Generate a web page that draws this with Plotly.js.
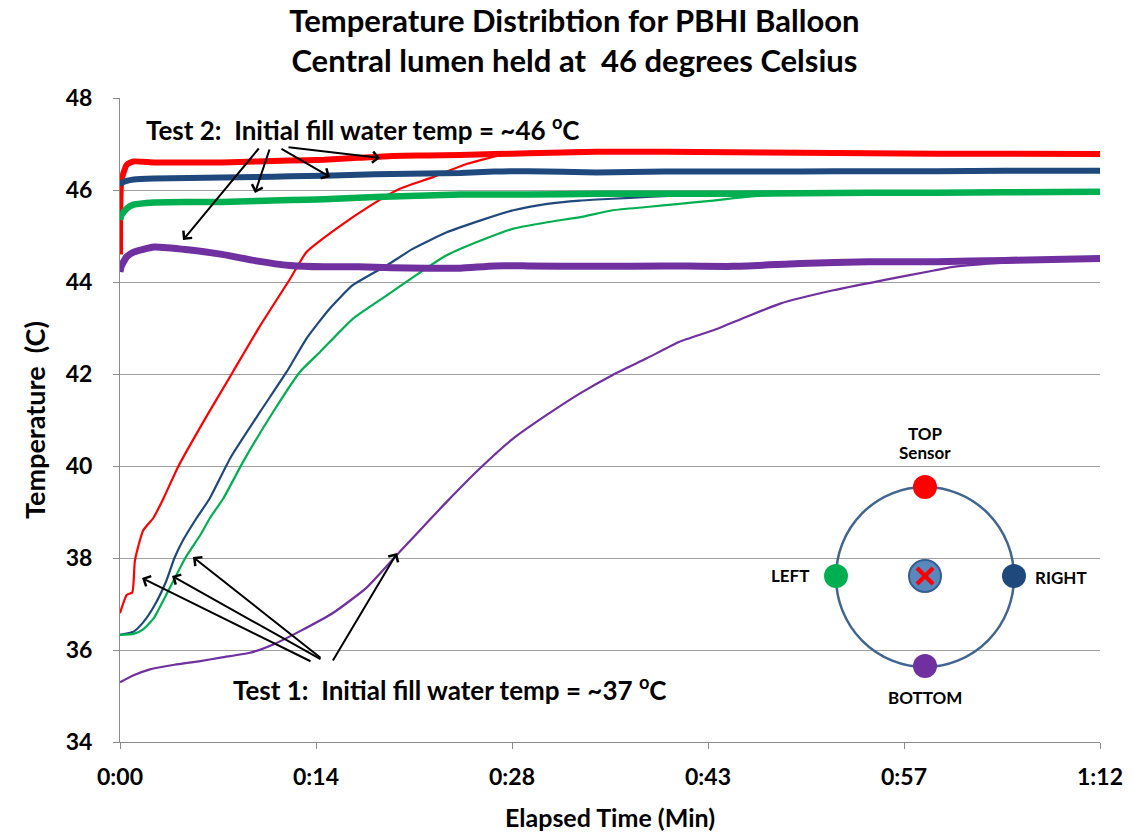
<!DOCTYPE html>
<html>
<head>
<meta charset="utf-8">
<script src="https://cdn.plot.ly/plotly-3.0.1.min.js"></script>
<style>html,body{margin:0;padding:0;background:#fff;}#chart{width:1133px;height:832px;}</style>
</head>
<body>
<div id="chart"></div>
<script>
// ---------- DATA ----------
// elapsed time in minutes, temperature in deg C
var xTickVals = [0, 14.4, 28.8, 43.2, 57.6, 72];
var xTickText = ["0:00", "0:14", "0:28", "0:43", "0:57", "1:12"];

// Test 2 (initial fill ~46 C)
var t2Time   = [0, 0.1, 0.5, 1, 2.5, 5, 7.5, 10, 12.5, 15, 17.5, 20, 22.5, 25, 27.5, 30, 35, 40, 45, 50, 55, 60, 65, 72];
var t2Top    = [44.6, 46.2, 46.55, 46.62, 46.6, 46.6, 46.6, 46.62, 46.64, 46.66, 46.7, 46.74, 46.75, 46.76, 46.78, 46.8, 46.83, 46.83, 46.82, 46.81, 46.8, 46.79, 46.79, 46.78];
var t2Right  = [46.1, 46.15, 46.2, 46.23, 46.25, 46.26, 46.27, 46.28, 46.3, 46.31, 46.33, 46.35, 46.36, 46.37, 46.4, 46.41, 46.38, 46.4, 46.4, 46.4, 46.41, 46.41, 46.42, 46.42];
var t2Left   = [45.35, 45.45, 45.6, 45.68, 45.73, 45.74, 45.74, 45.76, 45.78, 45.8, 45.83, 45.86, 45.88, 45.9, 45.9, 45.9, 45.92, 45.92, 45.92, 45.93, 45.94, 45.94, 45.95, 45.96];
var t2Bottom = [44.22, 44.35, 44.55, 44.65, 44.76, 44.7, 44.6, 44.46, 44.36, 44.33, 44.33, 44.31, 44.3, 44.3, 44.35, 44.35, 44.34, 44.35, 44.34, 44.4, 44.44, 44.44, 44.47, 44.51];

// Test 1 (initial fill ~37 C)
var t1TopTime  = [0, 0.5, 0.9, 1.1, 1.7, 2.45, 3.2, 4.3, 6.4, 8.3, 10.3, 12.5, 13.7, 15.9, 18.4, 20.6, 23, 25.5, 27.9, 30.4, 35.3, 40, 45, 55, 65, 72];
var t1Top      = [36.8, 37.2, 37.25, 37.95, 38.6, 38.87, 39.3, 40.0, 41.1, 42.05, 43.05, 44.07, 44.65, 45.16, 45.66, 46.03, 46.28, 46.57, 46.75, 46.82, 46.86, 46.85, 46.82, 46.8, 46.79, 46.78];
var t1RightTime = [0, 1.0, 1.7, 2.5, 3.4, 4.0, 4.6, 5.63, 6.6, 8.1, 10.3, 12.25, 13.7, 15.4, 17.1, 19.6, 21.5, 24, 26.5, 28.9, 31.4, 33.8, 36.2, 38.7, 41.1, 45, 50, 60, 72];
var t1Right     = [36.33, 36.4, 36.6, 36.95, 37.5, 38.0, 38.37, 38.87, 39.3, 40.17, 41.18, 42.05, 42.77, 43.42, 43.93, 44.36, 44.72, 45.08, 45.34, 45.56, 45.7, 45.77, 45.81, 45.85, 45.88, 45.9, 45.92, 45.94, 45.95];
var t1LeftTime = [0, 1.0, 1.7, 2.5, 3.4, 4.8, 5.9, 6.61, 7.6, 9.06, 11.26, 13.23, 14.7, 17.1, 19.6, 22, 24, 26.5, 28.9, 31.4, 33.8, 36.2, 38.7, 41.1, 43.6, 46, 48.5, 52, 60, 72];
var t1Left     = [36.33, 36.35, 36.45, 36.7, 37.2, 38.0, 38.5, 38.87, 39.3, 40.1, 41.18, 42.05, 42.48, 43.2, 43.71, 44.2, 44.58, 44.9, 45.16, 45.3, 45.41, 45.56, 45.63, 45.7, 45.77, 45.85, 45.9, 45.93, 45.94, 45.95];
var t1BottomTime = [0, 1, 2.2, 4, 5.9, 7.5, 9.55, 11.26, 13.23, 15.67, 18.1, 20.57, 22.5, 24, 26.45, 28.9, 31.35, 33.8, 36.2, 38.7, 41.1, 43.6, 46, 48.5, 52.4, 56.1, 59.8, 61.2, 65, 72];
var t1Bottom     = [35.3, 35.45, 35.58, 35.68, 35.76, 35.84, 35.94, 36.12, 36.41, 36.81, 37.35, 38.14, 38.75, 39.22, 39.95, 40.6, 41.11, 41.58, 41.98, 42.34, 42.7, 42.95, 43.24, 43.53, 43.82, 44.04, 44.25, 44.33, 44.42, 44.5];

// ---------- STYLE ----------
var cRed = '#FF0000', cBlue = '#1F497D', cGreen = '#00B050', cPurple = '#7030A0';
var calibri = 'Lato, "Open Sans", sans-serif';
var W = 1133, H = 832, mL = 120, mR = 33, mT = 98, mB = 90;
var plotW = W - mL - mR, plotH = H - mT - mB;
function px2x(px) { return (px - mL) / plotW * 72; }
function py2y(py) { return 48 - (py - mT) / plotH * 14; }
function ppx(px) { return (px - mL) / plotW; }
function ppy(py) { return (H - mB - py) / plotH; }

function line(x, y, color, width, name) {
  return {x: x, y: y, type: 'scatter', mode: 'lines', name: name,
          line: {color: color, width: width, shape: 'spline', smoothing: 0.5}, hoverinfo: 'x+y'};
}
var traces = [
  line(t1TopTime, t1Top, cRed, 2.2, 'Test 1 Top'),
  line(t1RightTime, t1Right, cBlue, 2.2, 'Test 1 Right'),
  line(t1LeftTime, t1Left, cGreen, 2.2, 'Test 1 Left'),
  line(t1BottomTime, t1Bottom, cPurple, 2.2, 'Test 1 Bottom'),
  line(t2Time, t2Top, cRed, 6, 'Test 2 Top'),
  line(t2Time, t2Right, cBlue, 6, 'Test 2 Right'),
  line(t2Time, t2Left, cGreen, 6.5, 'Test 2 Left'),
  line(t2Time, t2Bottom, cPurple, 7, 'Test 2 Bottom')
];

function arrow(tailPx, tailPy, headPx, headPy) {
  return {xref: 'x', yref: 'y', axref: 'x', ayref: 'y', text: '',
          x: px2x(headPx), y: py2y(headPy), ax: px2x(tailPx), ay: py2y(tailPy),
          showarrow: true, arrowhead: 4, arrowsize: 1.1, arrowwidth: 2, arrowcolor: '#000', standoff: 0};
}
function label(text, px, py, size) {
  return {xref: 'paper', yref: 'paper', x: ppx(px), y: ppy(py), text: text, showarrow: false,
          xanchor: 'center', yanchor: 'middle', font: {family: calibri, size: size, color: '#000', weight: 'bold'}};
}

var annotations = [
  label('Test 2:\u00a0 Initial fill water temp = ~46 <sup>o</sup>C', 363, 128, 26),
  label('Test 1:\u00a0 Initial fill water temp = ~37 <sup>o</sup>C', 450, 688, 26),
  arrow(260, 147, 183, 240),
  arrow(270, 148, 255, 193),
  arrow(280, 148, 330, 177),
  arrow(287, 147, 380, 158),
  arrow(312, 662, 142, 578),
  arrow(322, 660, 172, 576),
  arrow(322, 659, 193, 557),
  arrow(332, 662, 397, 553),
  label('TOP', 925, 433, 17),
  label('Sensor', 925, 452, 17),
  label('LEFT', 790, 575, 17),
  label('RIGHT', 1061, 577, 17),
  label('BOTTOM', 925, 697, 17)
];

function dot(cx, cy, r, fill, lineColor, lw) {
  return {type: 'circle', xref: 'paper', yref: 'paper',
          x0: ppx(cx - r), x1: ppx(cx + r), y0: ppy(cy + r), y1: ppy(cy - r),
          fillcolor: fill, line: {color: lineColor, width: lw}, layer: 'above'};
}
var shapes = [
  {type: 'circle', xref: 'paper', yref: 'paper', x0: ppx(836), x1: ppx(1014), y0: ppy(667), y1: ppy(487),
   line: {color: '#3F6590', width: 2.5}, fillcolor: 'rgba(0,0,0,0)', layer: 'above'},
  dot(925, 487, 12, cRed, cRed, 0),
  dot(836, 576, 12, cGreen, cGreen, 0),
  dot(1014, 576, 12, cBlue, cBlue, 0),
  dot(925, 666, 12, cPurple, cPurple, 0),
  dot(925, 576, 16, '#5B87BF', '#365F91', 2),
  {type: 'line', xref: 'paper', yref: 'paper', x0: ppx(917), y0: ppy(568), x1: ppx(933), y1: ppy(584),
   line: {color: cRed, width: 4}, layer: 'above'},
  {type: 'line', xref: 'paper', yref: 'paper', x0: ppx(933), y0: ppy(568), x1: ppx(917), y1: ppy(584),
   line: {color: cRed, width: 4}, layer: 'above'}
];

var layout = {
  width: W, height: H,
  margin: {l: mL, r: mR, t: mT, b: mB, pad: 0},
  paper_bgcolor: '#fff', plot_bgcolor: '#fff',
  showlegend: false,
  title: {text: 'Temperature Distribtion for PBHI Balloon<br>Central lumen held at\u00a0 46 degrees Celsius',
          font: {family: calibri, size: 31, color: '#000', weight: 'bold'},
          x: 0.507, xref: 'container', xanchor: 'center', y: 0.962, yref: 'container', yanchor: 'top'},
  xaxis: {range: [0, 72], tickvals: xTickVals, ticktext: xTickText, showgrid: false, zeroline: false,
          showline: true, linecolor: '#8C8C8C', linewidth: 1, ticks: 'outside', ticklen: 6, tickcolor: '#8C8C8C',
          ticklabelstandoff: 8,
          tickfont: {family: calibri, size: 23, color: '#000', weight: 'bold'},
          title: {text: 'Elapsed Time (Min)', font: {family: calibri, size: 25, color: '#000', weight: 'bold'}, standoff: 20}},
  yaxis: {range: [34, 48], dtick: 2, tick0: 34, showgrid: true, gridcolor: '#A0A0A0', gridwidth: 1, zeroline: false,
          showline: true, linecolor: '#8C8C8C', linewidth: 1, ticks: 'outside', ticklen: 6, tickcolor: '#8C8C8C',
          ticklabelstandoff: 16,
          tickfont: {family: calibri, size: 23, color: '#000', weight: 'bold'},
          title: {text: 'Temperature\u00a0 (C)', font: {family: calibri, size: 27, color: '#000', weight: 'bold'}, standoff: 12}},
  annotations: annotations,
  shapes: shapes
};

Plotly.newPlot('chart', traces, layout, {displayModeBar: false, staticPlot: true});
</script>
</body>
</html>
